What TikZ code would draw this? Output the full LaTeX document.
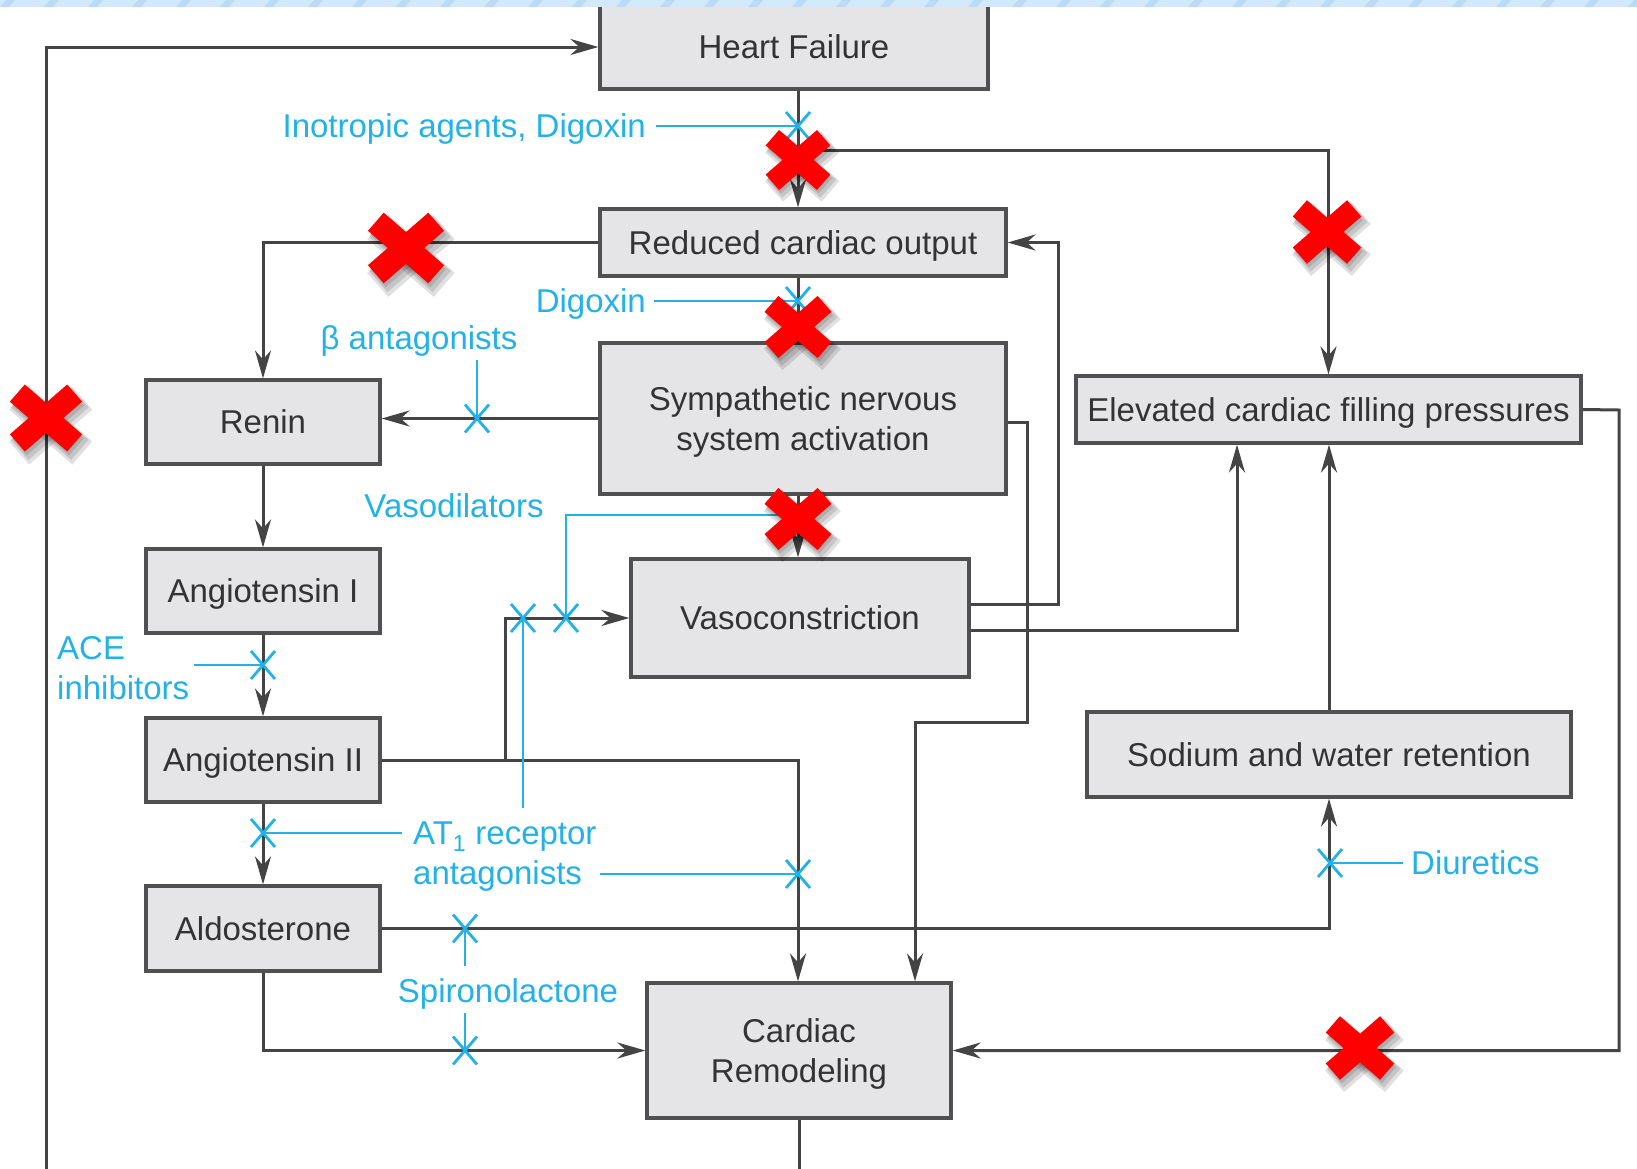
\documentclass[tikz,border=0pt]{standalone}
\usepackage{fontspec}
\setmainfont{Liberation Sans}
\usetikzlibrary{arrows.meta}
\definecolor{boxfill}{HTML}{E5E5E7}
\definecolor{boxline}{HTML}{505050}
\definecolor{wirec}{HTML}{444444}
\definecolor{txt}{HTML}{333333}
\definecolor{drug}{HTML}{22B1E8}
\definecolor{band}{HTML}{D2E9FB}
\definecolor{bandstripe}{HTML}{BBDAF3}
\definecolor{xred}{HTML}{FF0000}
\begin{document}
\begin{tikzpicture}[x=1pt,y=-1pt,
  box/.style={draw=boxline, fill=boxfill, line width=3.2pt, inner sep=0pt, text=txt,
    font=\fontsize{33}{40}\selectfont, align=center, text depth=0pt},
  wire/.style={draw=wirec, line width=3pt},
  arr/.style={wire, -{Stealth[length=28pt,width=16pt,inset=9pt]}},
  drugline/.style={draw=drug, line width=2.8pt},
  drugtxt/.style={text=drug, font=\fontsize{33}{40}\selectfont, inner sep=0pt, text depth=0pt},
  blocker/.pic={\draw[drug, line width=2.8pt] (-12,-14)--(12,14) (-12,14)--(12,-14);},
  redx/.pic={
    \foreach \dx/\dy/\g in {5/8/4, 4/6/2, 2/4/0}{
      \begin{scope}[shift={(\dx,\dy)}]
        \fill[black,opacity=0.12,rotate=41] (-40-\g,-12-\g) rectangle (40+\g,12+\g);
        \fill[black,opacity=0.12,rotate=-41] (-40-\g,-12-\g) rectangle (40+\g,12+\g);
      \end{scope}
    }
    \fill[xred,rotate=41] (-40,-12) rectangle (40,12);
    \fill[xred,rotate=-41] (-40,-12) rectangle (40,12);
  }
]
\useasboundingbox (0,0) rectangle (1637,1168);

% ---------- boxes ----------
\node[box, minimum width=388pt, minimum height=84pt] (hf)  at (794,47)    {Heart Failure};
\node[box, minimum width=406pt, minimum height=67pt] (rco) at (803,242.5) {Reduced cardiac output};
\node[box, minimum width=406pt, minimum height=151pt] (sym) at (803,418.5) {Sympathetic nervous\\system activation};
\node[box, minimum width=505pt, minimum height=67pt] (el)  at (1328.5,409.5) {Elevated cardiac filling pressures};
\node[box, minimum width=234pt, minimum height=84pt] (ren) at (263,422) {Renin};
\node[box, minimum width=234pt, minimum height=84pt] (a1)  at (263,591) {Angiotensin I};
\node[box, minimum width=234pt, minimum height=84pt] (a2)  at (263,760) {Angiotensin II};
\node[box, minimum width=234pt, minimum height=85pt] (ald) at (263,928.5) {Aldosterone};
\node[box, minimum width=338pt, minimum height=118pt] (vaso) at (800,618) {Vasoconstriction};
\node[box, minimum width=484pt, minimum height=85pt] (sod) at (1329,754.5) {Sodium and water retention};
\node[box, minimum width=304pt, minimum height=135pt] (cr) at (799,1050.5) {Cardiac\\Remodeling};

% ---------- helper coordinates ----------
\coordinate (sp) at (798,0);
\coordinate (br) at (798,150);
\coordinate (k1) at (1058,604);
\coordinate (k2) at (1237,630);
\coordinate (k3) at (1027,422);
\coordinate (k4) at (915,722);
\coordinate (k5) at (505,760);
\coordinate (k7) at (1619,410);
\coordinate (lb) at (799,1185);
\coordinate (ll) at (46,1185);

% ---------- black connectors ----------
\draw[wire] (cr.south) -- (lb);
\draw[arr] (ll) |- (hf.west);
\draw[arr] (hf.south -| sp) -- (rco.north -| sp);
\draw[arr] (br) -| (el.north);
\draw[arr] (rco.west) -| (ren.north);
\draw[arr] (rco.south -| sp) -- (sym.north -| sp);
\draw[arr] (sym.west) -- (ren.east |- sym.west);
\draw[arr] (vaso.east |- k1) -- (k1) |- (rco.east);
\draw[arr] (vaso.east |- k2) -- (k2) -- (el.south -| k2);
\draw[arr] (sym.east |- k3) -- (k3) |- (k4) -- (cr.north -| k4);
\draw[arr] (sym.south -| sp) -- (vaso.north -| sp);
\draw[arr] (a2.east) -| (cr.north -| sp);
\draw[arr] (k5) |- (vaso.west);
\draw[arr] (ren.south) -- (a1.north);
\draw[arr] (a1.south) -- (a2.north);
\draw[arr] (a2.south) -- (ald.north);
\draw[arr] (ald.south) |- (cr.west);
\draw[arr] (ald.east) -| (sod.south);
\draw[arr] (sod.north) -- (el.south -| sod.north);
\draw[arr] (el.east) -- (k7) |- (cr.east);

% ---------- drug labels and blocking lines ----------
\node[drugtxt, anchor=east] (ino) at (646,126) {Inotropic agents, Digoxin};
\coordinate (m1) at (798,126);
\draw[drugline] ([xshift=10pt]ino.east) -- (m1);
\pic at (m1) {blocker};

\node[drugtxt, anchor=east] (dig) at (646,301) {Digoxin};
\coordinate (m2) at (798,301);
\draw[drugline] ([xshift=8pt]dig.east) -- (m2);
\pic at (m2) {blocker};

\node[drugtxt] (beta) at (419,338) {β antagonists};
\coordinate (b0) at (477,360);
\coordinate (m3) at (477,418.5);
\draw[drugline] (b0) -- (m3);
\pic at (m3) {blocker};

\node[drugtxt] (vdl) at (454,506) {Vasodilators};
\coordinate (vd0) at (792,515);
\coordinate (m4) at (566,618);
\draw[drugline] (vd0) -| (m4);
\pic at (m4) {blocker};

\coordinate (m5) at (523,618);
\coordinate (a0) at (523,808);
\draw[drugline] (m5) -- (a0);
\pic at (m5) {blocker};

\node[drugtxt, anchor=west, align=left] (ace) at (57,668) {ACE\\inhibitors};
\coordinate (c0) at (194,665);
\coordinate (m6) at (263,665);
\draw[drugline] (c0) -- (m6);
\pic at (m6) {blocker};

\node[drugtxt, anchor=west, align=left] (at1) at (413,853) {AT\textsubscript{1} receptor\\antagonists};
\coordinate (t0) at (402,833);
\coordinate (m7) at (263,833);
\draw[drugline] (t0) -- (m7);
\pic at (m7) {blocker};
\coordinate (t1) at (600,874);
\coordinate (m8) at (798,874);
\draw[drugline] (t1) -- (m8);
\pic at (m8) {blocker};

\node[drugtxt] (spi) at (508,991) {Spironolactone};
\coordinate (s0) at (465,966);
\coordinate (m9) at (465,928.5);
\draw[drugline] (s0) -- (m9);
\pic at (m9) {blocker};
\coordinate (s1) at (465,1013);
\coordinate (m10) at (465,1050.5);
\draw[drugline] (s1) -- (m10);
\pic at (m10) {blocker};

\node[drugtxt, anchor=west] (diu) at (1411,863) {Diuretics};
\coordinate (m11) at (1330,863);
\draw[drugline] ([xshift=-8pt]diu.west) -- (m11);
\pic at (m11) {blocker};

% ---------- red crosses ----------
\pic[scale=0.95] at (46,418) {redx};
\pic[scale=0.85] at (798,160) {redx};
\pic[scale=1.0] at (406,248) {redx};
\pic[scale=0.9] at (1327,232) {redx};
\pic[scale=0.88] at (798,327) {redx};
\pic[scale=0.88] at (798,519) {redx};
\pic[scale=0.9] at (1360,1048) {redx};

% ---------- top band ----------
\fill[band] (0,0) rectangle (1637,7);
\foreach \sx in {0,44,...,1640}{
  \fill[bandstripe] (\sx,7) -- (\sx+9,7) -- (\sx+15,0) -- (\sx+6,0) -- cycle;
}
\end{tikzpicture}
\end{document}
